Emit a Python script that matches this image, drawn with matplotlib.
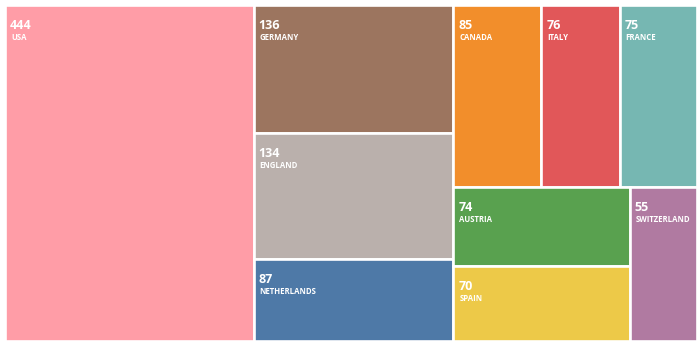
import matplotlib
matplotlib.use("Agg")
import matplotlib.pyplot as plt
from matplotlib.patches import Rectangle

countries = ["USA", "GERMANY", "ENGLAND", "NETHERLANDS", "CANADA",
             "ITALY", "FRANCE", "AUSTRIA", "SPAIN", "SWITZERLAND"]
counts = [444, 136, 134, 87, 85, 76, 75, 74, 70, 55]
colors = ["#FF9DA7", "#9C755F", "#BAB0AC", "#4E79A7", "#F28E2B",
          "#E15759", "#76B7B2", "#59A14F", "#EDC948", "#B07AA1"]

# how the tiles are grouped: "h" = side by side, "v" = stacked
tree = ("h", [0,
              ("v", [1, 2, 3]),
              ("v", [("h", [4, 5, 6]),
                     ("h", [("v", [7, 8]), 9])])])

W, H = 692.0, 336.0


def total(node):
    if isinstance(node, int):
        return counts[node]
    return sum(total(c) for c in node[1])


def place(node, x, y, w, h, out):
    if isinstance(node, int):
        out[node] = (x, y, w, h)
        return
    kind, kids = node
    s = total(node)
    for k in kids:
        f = total(k) / s
        if kind == "h":
            place(k, x, y, w * f, h, out)
            x += w * f
        else:
            place(k, x, y, w, h * f, out)
            y += h * f


rects = {}
place(tree, 0, 0, W, H, rects)

fig = plt.figure(figsize=(7, 3.46), dpi=100)
ax = fig.add_axes([5 / 700, 5 / 346, W / 700, H / 346])
ax.set_xlim(0, W)
ax.set_ylim(H, 0)
ax.axis("off")

for i, (c, name, n) in enumerate(zip(colors, countries, counts)):
    x, y, w, h = rects[i]
    p = Rectangle((x, y), w, h, facecolor=c, edgecolor="white", linewidth=1.9)
    ax.add_patch(p)
    t1 = ax.text(x + 5, y + 24, str(n), color="white", fontsize=9, fontweight="bold",
                 family="Open Sans", va="baseline", ha="left")
    t2 = ax.text(x + 6, y + 35, name, color="white", fontsize=5.6, fontweight="bold",
                 family="Open Sans", va="baseline", ha="left")
    t1.set_clip_path(p)
    t2.set_clip_path(p)

fig.savefig("out.png", dpi=100)
